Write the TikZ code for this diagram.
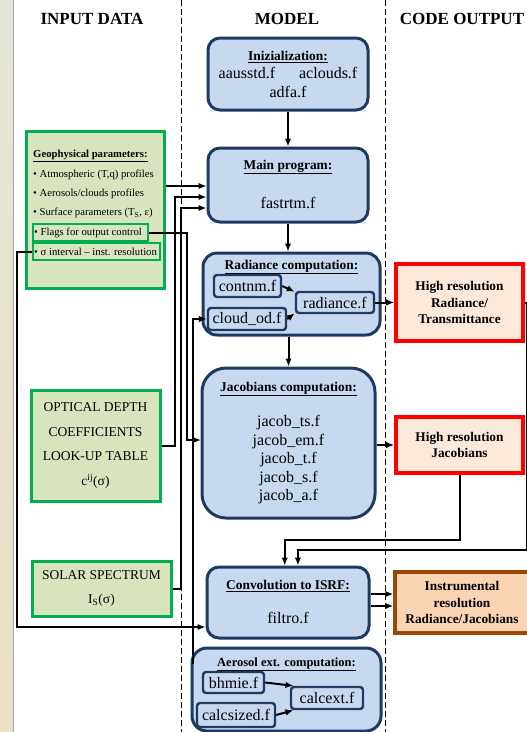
\documentclass[tikz,border=0pt]{standalone}
\usepackage{fontspec}
\setmainfont{Liberation Serif}
\usetikzlibrary{arrows.meta}

\definecolor{boxblue}{HTML}{C6D9F1}
\definecolor{navy}{HTML}{1F3A60}
\definecolor{ingreen}{HTML}{00B050}
\definecolor{inolive}{HTML}{D7E4BD}
\definecolor{hired}{HTML}{FF0000}
\definecolor{hifill}{HTML}{FDE9D9}
\definecolor{instfill}{HTML}{FBD4B4}
\definecolor{instbrown}{HTML}{984807}
\definecolor{stripa}{HTML}{E3E4D8}
\definecolor{stripb}{HTML}{E9DFC2}

\newcommand{\ttl}[1]{\underline{\textbf{#1}}}

\tikzset{
  modbox/.style={draw=navy,fill=boxblue,line width=3pt,rounded corners=12pt},
  subbox/.style={draw=navy,fill=boxblue,line width=2.4pt,rounded corners=3pt,inner sep=0pt},
  inbox/.style={draw=ingreen,fill=inolive,line width=3pt},
  flagbox/.style={draw=ingreen,fill=inolive,line width=2.4pt,anchor=west,inner xsep=1pt,inner ysep=0pt},
  hibox/.style={draw=hired,fill=hifill,line width=3.6pt},
  instbox/.style={draw=instbrown,fill=instfill,line width=3.4pt},
  ttlfont/.style={font=\fontsize{13.4}{16}\selectfont},
  filefont/.style={font=\fontsize{16}{18.5}\selectfont,align=center},
  itemfont/.style={font=\fontsize{10.7}{13}\selectfont,anchor=west,inner xsep=0pt},
  bigfont/.style={font=\fontsize{13.5}{24.5}\selectfont,align=center},
  outfont/.style={font=\fontsize{13.3}{16.5}\selectfont\bfseries,align=center},
  header/.style={font=\fontsize{17}{20}\selectfont\bfseries},
  divider/.style={dash pattern=on 6pt off 3pt,line width=1pt},
  link/.style={->,line width=2pt}
}

\begin{document}
\begin{tikzpicture}[x=1pt,y=-1pt,>={Latex[length=8pt,width=6.5pt]}]
  \useasboundingbox (0,0) rectangle (527,732);
  % background and columns
  \shade[top color=stripa,bottom color=stripb] (0,0) rectangle (13,732);
  \draw[gray!70,line width=0.8pt] (13,0) -- (13,732);
  \draw[divider] (181,0) -- (181,732);
  \draw[divider] (385,0) -- (385,732);

  \node[header] (hin) at (92,19) {INPUT DATA};
  \node[header] (hmod) at (287,19) {MODEL};
  \node[header] (hout) at (462,19) {CODE OUTPUT};

  % model
  \node[modbox,minimum width=160pt,minimum height=72pt] (init) at (288,74) {};
  \node[ttlfont] (initt) at (288,57) {\ttl{Inizialization:}};
  \node[filefont] (initf) at (288,82.5) {aausstd.f\hspace{24pt}aclouds.f\\adfa.f};

  \node[modbox,minimum width=160pt,minimum height=74pt] (main) at (288,185) {};
  \node[ttlfont] (maint) at (288,167) {\ttl{Main program:}};
  \node[filefont] (mainf) at (288,203) {fastrtm.f};

  \node[modbox,rounded corners=14pt,minimum width=177pt,minimum height=82pt] (rad) at (291.5,294) {};
  \node[ttlfont] (radt) at (291.5,267) {\ttl{Radiance computation:}};
  \node[subbox,filefont,minimum width=67pt,minimum height=22pt] (cnt) at (247.5,286) {contnm.f};
  \node[subbox,filefont,minimum width=78pt,minimum height=22pt] (cld) at (247,319) {cloud\_od.f};
  \node[subbox,filefont,minimum width=78pt,minimum height=21pt] (radf) at (335,302.5) {radiance.f};

  \node[modbox,rounded corners=24pt,minimum width=173pt,minimum height=150pt] (jac) at (288.5,443) {};
  \node[ttlfont] (jact) at (288.5,389) {\ttl{Jacobians computation:}};
  \node[filefont] (jacf) at (288.5,460) {jacob\_ts.f\\jacob\_em.f\\jacob\_t.f\\jacob\_s.f\\jacob\_a.f};

  \node[modbox,minimum width=162pt,minimum height=71pt] (conv) at (288,602.5) {};
  \node[ttlfont] (convt) at (288,586) {\ttl{Convolution to ISRF:}};
  \node[filefont] (convf) at (288,618) {filtro.f};

  \node[modbox,rounded corners=15pt,minimum width=189pt,minimum height=83pt] (aer) at (286.5,689.5) {};
  \node[font=\fontsize{12.5}{15}\selectfont] (aert) at (286.5,664) {\ttl{Aerosol ext. computation:}};
  \node[subbox,filefont,minimum width=61pt,minimum height=21pt] (bhm) at (233.5,682.5) {bhmie.f};
  \node[subbox,filefont,minimum width=78pt,minimum height=24pt] (csz) at (236,715) {calcsized.f};
  \node[subbox,filefont,minimum width=72pt,minimum height=22pt] (cext) at (327,698) {calcext.f};

  % input data
  \node[inbox,minimum width=138pt,minimum height=157pt] (geo) at (95,209.5) {};
  \node[itemfont] (geot) at (33,156) {\ttl{Geophysical parameters:}};
  \node[itemfont] (atm) at (33,175) {\textbullet\ Atmospheric (T,q) profiles};
  \node[itemfont] (acp) at (33,194) {\textbullet\ Aerosols/clouds profiles};
  \node[itemfont] (sfc) at (33,213) {\textbullet\ Surface parameters (T\textsubscript{S}, ε)};
  \node[itemfont,flagbox,minimum height=17pt] (flg) at (32,232.5) {\makebox[113pt][l]{\textbullet\ Flags for output control}};
  \node[itemfont,flagbox,minimum height=17pt] (sig) at (32,251.5) {\makebox[125pt][l]{\textbullet\ σ interval – inst. resolution}};

  \node[inbox,bigfont,minimum width=129pt,minimum height=111pt] (lut) at (95.5,445.5) {OPTICAL DEPTH\\COEFFICIENTS\\LOOK-UP TABLE\\c\textsuperscript{ij}(σ)};
  \node[inbox,bigfont,minimum width=139pt,minimum height=55pt] (sol) at (101.5,588.5) {SOLAR SPECTRUM\\I\textsubscript{S}(σ)};

  % code output
  \node[hibox,outfont,minimum width=127pt,minimum height=77pt] (hrrad) at (459.5,302.5) {High resolution\\Radiance/\\Transmittance};
  \node[hibox,outfont,minimum width=127pt,minimum height=56pt] (hrjac) at (459.5,445) {High resolution\\Jacobians};
  \node[instbox,outfont,minimum width=134pt,minimum height=61pt] (inst) at (462,602.5) {Instrumental\\resolution\\Radiance/Jacobians};

  % connectors
  \coordinate (m1) at ([yshift=-1pt]main.west);
  \coordinate (m2) at ([yshift=-12pt]main.west);
  \coordinate (m3) at ([yshift=-23pt]main.west);
  \coordinate (j1) at ([yshift=3pt]jac.west);
  \coordinate (c1) at ([yshift=-24.5pt]conv.west);
  \coordinate (busA) at (175,0);
  \coordinate (busB) at (181,0);
  \coordinate (busC) at (187,0);
  \coordinate (busD) at (193,0);
  \coordinate (busL) at (16.5,0);

  \draw[link] (init) -- (main);
  \draw[link] (main.south) -- (main.south |- rad.north);
  \draw[link] (jac.north |- rad.south) -- (jac.north);
  \draw[link] (cnt.east) -- (radf.165);
  \draw[link] (cld.east) -- (radf.195);
  \draw[link] (bhm.east) -- (cext.160);
  \draw[link] (csz.east) -- (cext.200);

  \draw[link] (geo.east |- m1) -- (m1);
  \draw[link] (lut.east) -| (busA |- m2) -- (m2);
  \draw[link] (sol.east) -| (busB |- m3) -- (m3);
  \draw[link] (flg.east) -| (busC |- j1) -- (j1);
  \draw[link] (sig.west) -| (busL |- c1) -- (c1);
  \draw[link] (busD |- aer.165) -- (busD |- cld.west) -- (cld.west);
  \draw[link] (busD |- j1) -- (j1);

  \draw[link] (radf.east) -- (hrrad.west);
  \draw[link] (jac.east |- hrjac.west) -- (hrjac.west);
  \draw[link] (hrrad.east) -- ++(2.5,0) -- ++(0,247.5) -| (conv.75);
  \draw[link] (hrjac.south) -- ++(0,65) -| (conv.95);
  \draw[link] ([yshift=8.5pt]conv.east) -- ([yshift=8.5pt]conv.east -| inst.west);
  \draw[link] ([yshift=-3.5pt]conv.east) -- ([yshift=-3.5pt]conv.east -| inst.west);
\end{tikzpicture}
\end{document}
